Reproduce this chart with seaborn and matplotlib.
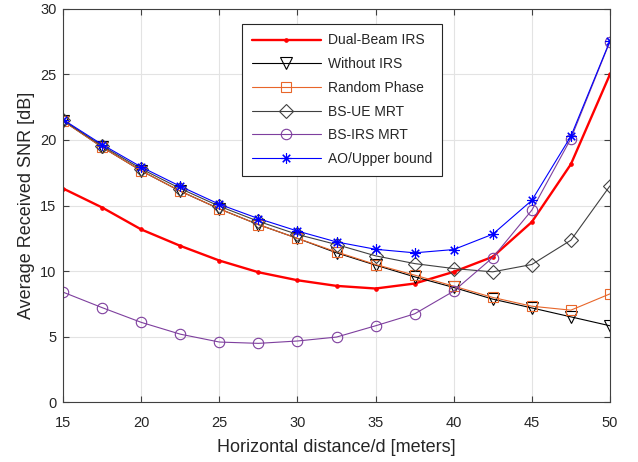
import pandas as pd
import matplotlib
matplotlib.use('Agg')
import matplotlib.pyplot as plt
import seaborn as sns

# distances (meters)
distance = [15, 17.5, 20, 22.5, 25, 27.5, 30, 32.5, 35, 37.5, 40, 42.5, 45, 47.5, 50]

# average received SNR [dB]
dual_beam = [16.3, 14.85, 13.18, 11.93, 10.81, 9.92, 9.31, 8.88, 8.68, 9.06, 9.95, 11.1, 13.75, 18.15, 25.0]
without_irs = [21.45, 19.45, 17.65, 16.1, 14.75, 13.55, 12.5, 11.4, 10.46, 9.57, 8.76, 7.87, 7.2, 6.52, 5.84]
random_phase = [21.45, 19.45, 17.65, 16.1, 14.75, 13.55, 12.5, 11.47, 10.51, 9.7, 8.86, 8.0, 7.33, 7.03, 8.27]
bs_ue_mrt = [21.5, 19.55, 17.8, 16.3, 14.95, 13.8, 12.8, 12.03, 11.17, 10.58, 10.2, 9.95, 10.51, 12.36, 16.5]
bs_irs_mrt = [8.4, 7.22, 6.1, 5.2, 4.6, 4.5, 4.68, 4.98, 5.84, 6.75, 8.48, 11.04, 14.65, 20.1, 27.5]
ao_upper = [21.55, 19.65, 17.94, 16.47, 15.1, 14.01, 13.06, 12.23, 11.67, 11.4, 11.65, 12.82, 15.4, 20.28, 27.55]

sns.set_style('whitegrid')
plt.rcParams['font.family'] = ['Liberation Sans', 'DejaVu Sans']

fig, ax = plt.subplots(figsize=(6.38, 4.62), dpi=100)
fig.subplots_adjust(left=0.099, right=0.956, top=0.981, bottom=0.129)

series = [
    ('Dual-Beam IRS', dual_beam, dict(color='#ff0000', marker='.', markersize=5, linewidth=1.7, mfc='#ff0000')),
    ('Without IRS', without_irs, dict(color='black', marker='v', markersize=9, linewidth=0.8, mfc='none')),
    ('Random Phase', random_phase, dict(color='#e8662a', marker='s', markersize=7.5, linewidth=0.8, mfc='none')),
    ('BS-UE MRT', bs_ue_mrt, dict(color='#404040', marker='D', markersize=7, linewidth=0.8, mfc='none')),
    ('BS-IRS MRT', bs_irs_mrt, dict(color='#7e3f9e', marker='o', markersize=7.5, linewidth=0.8, mfc='none')),
    ('AO/Upper bound', ao_upper, dict(color='#0000ff', marker=(8, 2, 0), markersize=7.5, linewidth=0.8)),
]

for name, values, style in series:
    df = pd.DataFrame({'d': distance, 'snr': values})
    mfc = style.pop('mfc', None)
    kw = {} if mfc is None else {'markerfacecolor': mfc}
    sns.lineplot(data=df, x='d', y='snr', ax=ax, label=name, markeredgewidth=0.8,
                 markeredgecolor=style['color'], **style, **kw)

ax.set_xlim(15, 50)
ax.set_ylim(0, 30)
ax.set_xticks([15, 20, 25, 30, 35, 40, 45, 50])
ax.set_yticks([0, 5, 10, 15, 20, 25, 30])
ax.set_xlabel('Horizontal distance/d [meters]', fontsize=13, color='#262626', labelpad=6.5)
ax.set_ylabel('Average Received SNR [dB]', fontsize=13, color='#262626', labelpad=3.5)
ax.tick_params(direction='in', length=4, labelsize=10.5, colors='#404040', labelcolor='#262626',
               top=True, right=True, bottom=True, left=True)
ax.tick_params(axis='x', pad=10)
ax.tick_params(axis='y', pad=4.8)
ax.grid(True, color='#e3e3e3', linewidth=0.8)
for sp in ax.spines.values():
    sp.set_color('#404040')
    sp.set_linewidth(0.8)

leg = ax.legend(loc='upper left', bbox_to_anchor=(0.3267, 0.962), fontsize=10,
                frameon=True, fancybox=False, framealpha=1, edgecolor='#262626',
                handlelength=5, handletextpad=0.5, borderpad=0.7, labelspacing=0.7,
                borderaxespad=0)
leg.get_frame().set_linewidth(0.8)

fig.savefig('out.png', dpi=100)
